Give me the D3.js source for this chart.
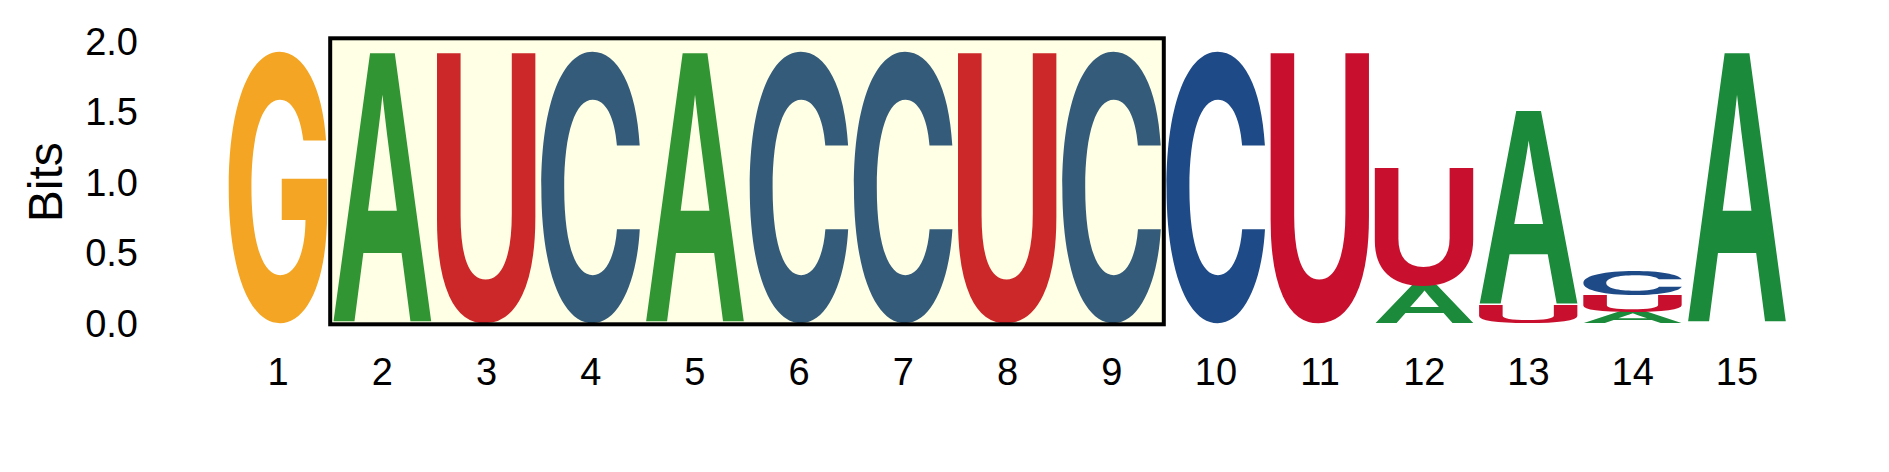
<!DOCTYPE html>
<html>
<head>
<meta charset="utf-8">
<script src="https://cdn.jsdelivr.net/npm/d3@7"></script>
<style>
  body { margin: 0; background: #fff; }
  svg { display: block; }
</style>
</head>
<body>
<div id="logo"></div>
<script>
// sequence logo, bits per letter per position

var positions = [1, 2, 3, 4, 5, 6, 7, 8, 9, 10, 11, 12, 13, 14, 15];
var letters = ["A", "C", "G", "U"];

var bitsA = [0, 1.92, 0, 0, 1.92, 0, 0, 0, 0, 0, 0, 0.27, 1.38, 0.08, 1.92];
var bitsC = [0, 0, 0, 1.92, 0, 1.92, 1.92, 0, 1.92, 1.92, 0, 0, 0, 0.17, 0];
var bitsG = [1.92, 0, 0, 0, 0, 0, 0, 0, 0, 0, 0, 0, 0, 0, 0];
var bitsU = [0, 0, 1.92, 0, 0, 0, 0, 1.92, 0, 0, 1.92, 0.84, 0.13, 0.12, 0];

var yTicks = [0, 0.5, 1, 1.5, 2];
var highlightStart = 2, highlightEnd = 9;

var colors = {A: "#1b8a3a", C: "#1e4a88", G: "#f3a523", U: "#c8102e"};

var width = 1889, height = 472;
// A and U look like Arial bold, C and G have flat cut terminals (closer to Inter)
var glyphFonts = {
    A: "'Liberation Sans', Arial, sans-serif",
    C: "Inter, 'Liberation Sans', sans-serif",
    G: "Inter, 'Liberation Sans', sans-serif",
    U: "'Liberation Sans', Arial, sans-serif"
};

var svg = d3.select("#logo").append("svg")
    .attr("width", width)
    .attr("height", height)
    .style("background", "#fff");

var x = d3.scaleBand()
    .domain(positions)
    .range([226, 1789])
    .paddingInner(0.05)
    .paddingOuter(0.025);

var y = d3.scaleLinear()
    .domain([0, 2])
    .range([323.3, 41.3]);

// canvas to get the ink box of every glyph
var ctx = document.createElement("canvas").getContext("2d");
var inkBox = {};
letters.forEach(function(ch) {
    ctx.font = "bold 200px " + glyphFonts[ch];
    var m = ctx.measureText(ch);
    inkBox[ch] = {
        l: m.actualBoundingBoxLeft,
        r: m.actualBoundingBoxRight,
        a: m.actualBoundingBoxAscent,
        d: m.actualBoundingBoxDescent
    };
});

var series = {A: bitsA, C: bitsC, G: bitsG, U: bitsU};

// stack letters, smallest at the bottom
var stacks = [];
positions.forEach(function(p, i) {
    var col = letters
        .map(function(ch) { return {ch: ch, v: series[ch][i]}; })
        .filter(function(d) { return d.v > 0; })
        .sort(function(a, b) { return a.v - b.v; });
    var base = 0;
    col.forEach(function(d) {
        stacks.push({pos: p, ch: d.ch, y0: base, y1: base + d.v});
        base += d.v;
    });
});

svg.append("g").selectAll("text")
    .data(stacks)
    .enter().append("text")
    .attr("font-family", function(d) { return glyphFonts[d.ch]; })
    .attr("font-weight", "bold")
    .attr("font-size", 200)
    .attr("fill", function(d) { return colors[d.ch]; })
    .attr("transform", function(d) {
        var b = inkBox[d.ch];
        var sx = x.bandwidth() / (b.l + b.r);
        var sy = (y(d.y0) - y(d.y1)) / (b.a + b.d);
        return "translate(" + x(d.pos) + "," + y(d.y1) + ") scale(" + sx + "," + sy + ") translate(" + b.l + "," + b.a + ")";
    })
    .text(function(d) { return d.ch; });

// highlighted region box (yellow wash over the letters)
var gap = (x.step() - x.bandwidth()) / 2;
svg.append("rect")
    .attr("x", x(highlightStart) - gap)
    .attr("y", y(2) - 3)
    .attr("width", x(highlightEnd) + x.bandwidth() + gap - (x(highlightStart) - gap))
    .attr("height", y(0) - y(2) + 4)
    .attr("fill", "#ffff00")
    .attr("fill-opacity", 0.1)
    .attr("stroke", "#000")
    .attr("stroke-width", 4);

// y axis labels, no line
svg.append("g").selectAll("text")
    .data(yTicks)
    .enter().append("text")
    .attr("x", 138)
    .attr("y", function(d) { return y(d); })
    .attr("dy", "0.36em")
    .attr("text-anchor", "end")
    .attr("font-family", "'Liberation Sans', Arial, sans-serif")
    .attr("font-size", 38)
    .text(function(d) { return d3.format(".1f")(d); });

svg.append("text")
    .attr("transform", "translate(62," + y(1.0) + ") rotate(-90)")
    .attr("text-anchor", "middle")
    .attr("font-family", "'Liberation Sans', Arial, sans-serif")
    .attr("font-size", 48)
    .text("Bits");

// x axis labels
svg.append("g").selectAll("text")
    .data(positions)
    .enter().append("text")
    .attr("x", function(d) { return x(d) + x.bandwidth() / 2; })
    .attr("y", 385)
    .attr("text-anchor", "middle")
    .attr("font-family", "'Liberation Sans', Arial, sans-serif")
    .attr("font-size", 38)
    .text(function(d) { return d; });
</script>
</body>
</html>
